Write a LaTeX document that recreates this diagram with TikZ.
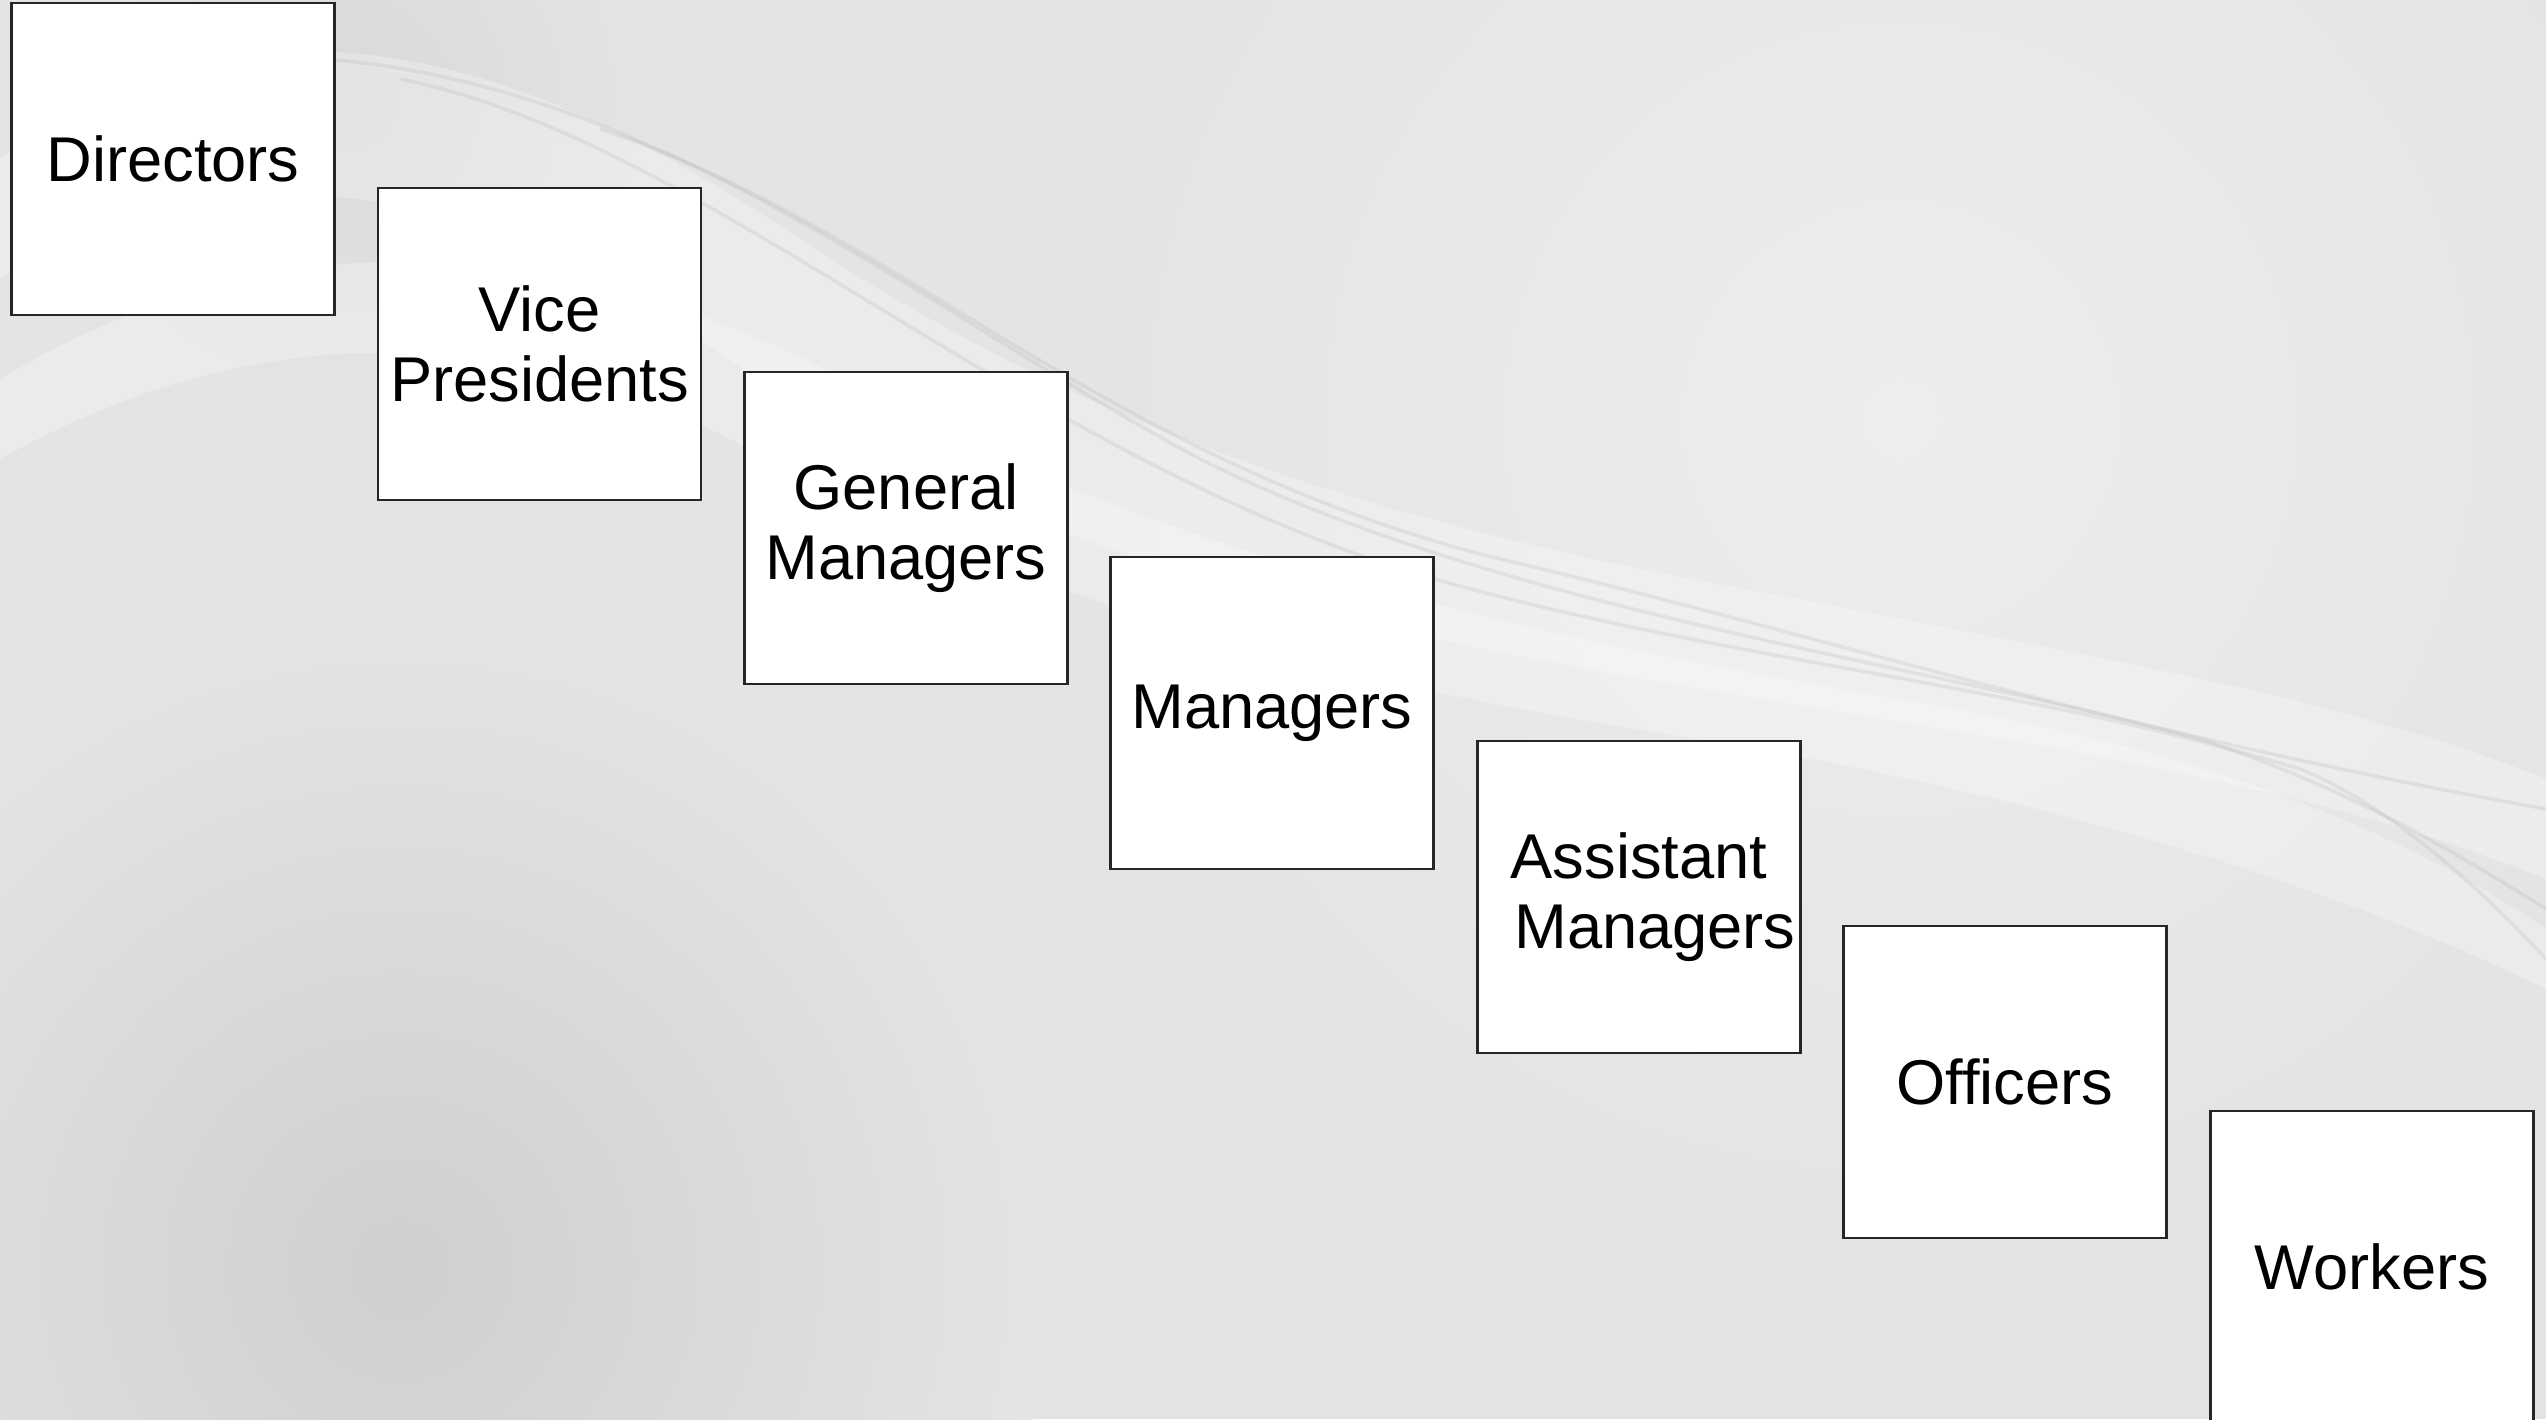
\documentclass[tikz,border=0pt]{standalone}
\usepackage{fontspec}
\setmainfont{Liberation Sans}
\usepackage{tikz}
\usetikzlibrary{positioning}
\usepackage{xcolor}

\definecolor{bgbase}{HTML}{E4E4E4}
\definecolor{bgdark}{HTML}{CFCFCF}
\definecolor{bglight}{HTML}{EDEDED}
\definecolor{waveline}{HTML}{B8B8B8}

\begin{document}
\begin{tikzpicture}
		[   rankbox/.style={draw=black!85,line width=0.6pt,fill=white,minimum width=3.23cm,minimum height=3.12cm,inner sep=0pt,align=center,font=\fontsize{18}{20}\selectfont},
		]
		\tikzset{wave band/.style={fill=white,opacity=0.28},
			wave line/.style={draw=waveline,line width=1pt,opacity=0.25}}
		
		\useasboundingbox (0,0) rectangle (25.46,14.19);
		
		\begin{scope}
			\clip (0,0) rectangle (25.46,14.19);
			\fill[bgbase] (0,0) rectangle (25.46,14.19);
			\shade[inner color=bglight,outer color=bgbase] (19,10) circle (8);
			\shade[inner color=bgdark,outer color=bgbase] (4,1.5) circle (6.5);
			\shade[inner color=black!15,outer color=bgbase] (3.5,13.2) circle (3);
			
			\path[wave band] (0,12.6) .. controls (2.5,14.4) and (5,13.8) .. (8,11.8) .. controls (11,9.8) and (14,8.9) .. (18,8.2) .. controls (21,7.6) and (23.5,7.2) .. (25.46,6.4) -- (25.46,5.4) .. controls (23,6.4) and (20,6.8) .. (17,7.3) .. controls (13,8) and (10,8.7) .. (7,10.8) .. controls (4.5,12.5) and (2,12.7) .. (0,11.4) -- cycle;
			\path[wave band] (0,10.4) .. controls (3,12.2) and (6,11.8) .. (9,10.1) .. controls (12,8.5) and (16,7.7) .. (19,7.2) .. controls (22,6.7) and (24,5.9) .. (25.46,4.9) -- (25.46,4.3) .. controls (23,5.5) and (20,6.3) .. (17,6.8) .. controls (13,7.4) and (10,8.3) .. (7.5,9.7) .. controls (5,11) and (2.5,11) .. (0,9.6) -- cycle;
			
			\path[wave line] (2,13.6) .. controls (6,13.9) and (9,11.2) .. (12,9.6) .. controls (15,8.1) and (19,7.6) .. (22,6.8) .. controls (23.5,6.3) and (24.5,5.7) .. (25.46,5.1);
			\path[wave line] (4,13.4) .. controls (7,12.8) and (10,9.8) .. (14,8.5) .. controls (17,7.6) and (20,7.4) .. (23,6.5) .. controls (24,6.1) and (25,5.1) .. (25.46,4.6);
			\path[wave line] (6,12.9) .. controls (9,11.9) and (11,9.6) .. (15,8.6) .. controls (18,7.9) and (21,6.9) .. (25.46,6.1);
		\end{scope}
		
		\node[rankbox] (r-1) at (1.73,12.60) {Directors};
		\node[rankbox] (r-2) at (5.395,10.75) {Vice\\Presidents};
		\node[rankbox] (r-3) at (9.06,8.91) {General\\Managers};
		\node[rankbox] (r-4) at (12.72,7.06) {Managers};
		\node[rankbox] (r-5) at (16.39,5.22) {Assistant\\\hspace*{0.32cm}Managers};
		\node[rankbox] (r-6) at (20.05,3.37) {Officers};
		\node[rankbox] (r-7) at (23.72,1.52) {Workers};
		
\end{tikzpicture}
\end{document}
